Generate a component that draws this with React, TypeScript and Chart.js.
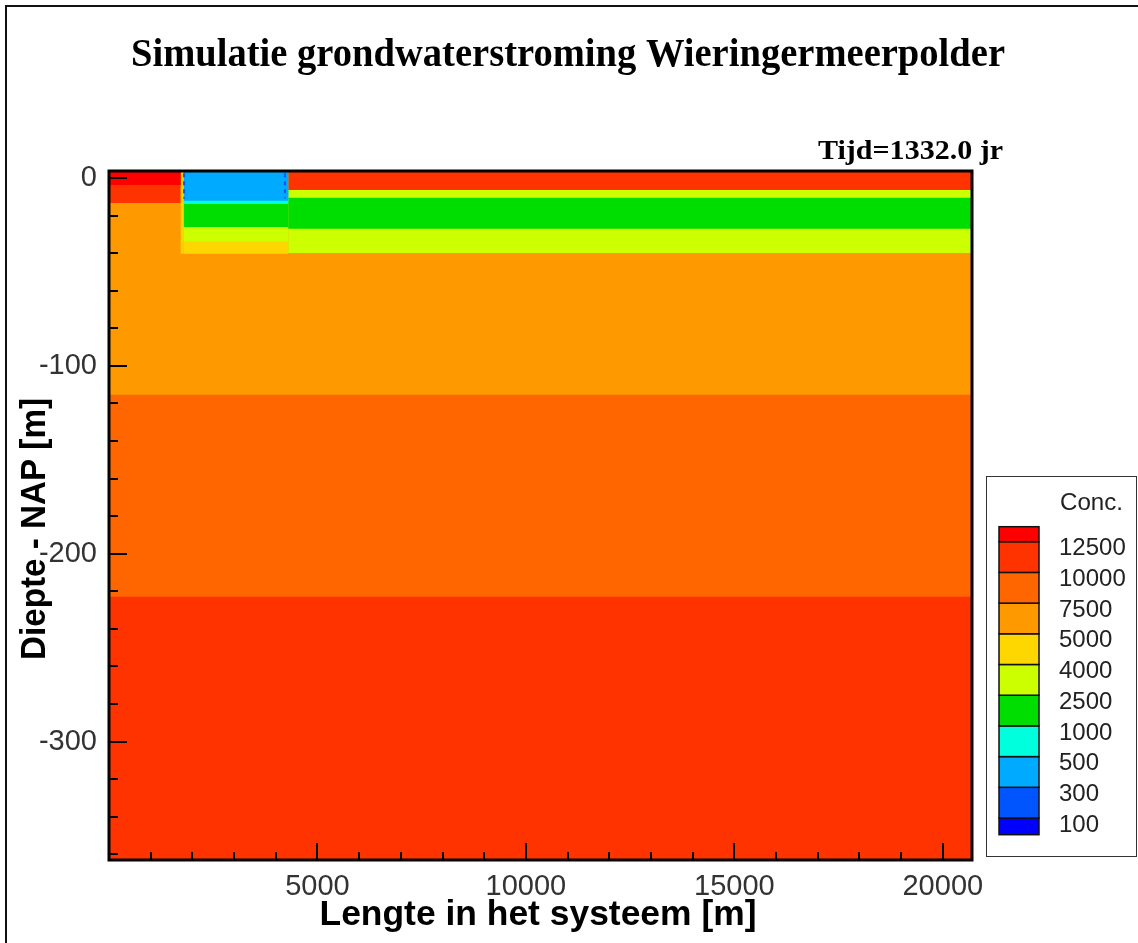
import React, { useEffect, useRef } from 'react';
import { Chart, registerables } from 'chart.js';

Chart.register(...registerables);

// ---- texts ----
const TITLE = 'Simulatie grondwaterstroming Wieringermeerpolder';
const TIME_LABEL = 'Tijd=1332.0 jr';
const X_TITLE = 'Lengte in het systeem [m]';
const Y_TITLE = 'Diepte - NAP [m]';
const LEGEND_TITLE = 'Conc.';

// ---- axes ----
const X_MIN = 0;
const X_MAX = 20700;
const Y_MIN = -363;
const Y_MAX = 3.7;
const X_TICKS = [5000, 10000, 15000, 20000];
const Y_TICKS = [0, -100, -200, -300];
const X_MINOR_STEP = 1000;
const Y_MINOR_STEP = 20;

// ---- concentration classes (legend) ----
const CONC_LEVELS = [100, 300, 500, 1000, 2500, 4000, 5000, 7500, 10000, 12500];
const CONC_COLORS = ['#0000ff', '#0055ff', '#00aaff', '#00ffdd', '#00dd00', '#ccff00', '#ffd700', '#ff9900', '#ff6600', '#ff3300', '#ff0000'];

// ---- full-length layers: bottom depth (m) and concentration, top to bottom ----
const BG_BOTTOM = [-115.4, -222.9, -363];
const BG_CONC = [6000, 8500, 11000];

// ---- columns near the surface (x edges in m; layer bottoms in m; concentrations) ----
const COL_X = [0, 1720, 1790, 4300, 20700];
const COL0_BOTTOMS = [-3.7, -13.3];
const COL0_CONC = [13000, 11000];
const COL1_BOTTOMS = [-40.4];
const COL1_CONC = [4500];
const COL2_BOTTOMS = [-12.2, -13.8, -26.1, -33.8, -40.4];
const COL2_CONC = [400, 700, 1500, 3000, 4500];
const COL3_BOTTOMS = [-6.4, -10.6, -27.1, -39.9];
const COL3_CONC = [11000, 3000, 1500, 3000];

// ---- dashed lines at the edges of the fresh lens ----
const DASH_X = [1800, 4220];
const DASH_Y = [2.5, -11];

function concColor(c: number): string {
  let i = 0;
  while (i < CONC_LEVELS.length && c >= CONC_LEVELS[i]) i++;
  return CONC_COLORS[i];
}

// each layer is filled from the surface down to its bottom; deeper layers are drawn first
function rect(x0: number, x1: number, yTop: number, yBot: number, conc: number, order: number) {
  const col = concColor(conc);
  return {
    type: 'scatter' as const,
    data: [
      { x: x0, y: yTop },
      { x: x1, y: yTop },
      { x: x1, y: yBot },
      { x: x0, y: yBot },
    ],
    showLine: true,
    fill: 'shape',
    backgroundColor: col,
    borderColor: 'rgba(0,0,0,0)',
    borderWidth: 0,
    pointRadius: 0,
    pointHoverRadius: 0,
    order,
  };
}

function buildDatasets() {
  const ds: any[] = [];
  for (let i = 0; i < BG_CONC.length; i++) {
    ds.push(rect(X_MIN, X_MAX, Y_MAX, BG_BOTTOM[i], BG_CONC[i], 100 + i));
  }
  const cols: [number[], number[]][] = [
    [COL0_BOTTOMS, COL0_CONC],
    [COL1_BOTTOMS, COL1_CONC],
    [COL2_BOTTOMS, COL2_CONC],
    [COL3_BOTTOMS, COL3_CONC],
  ];
  cols.forEach(([bottoms, conc], c) => {
    for (let i = 0; i < conc.length; i++) {
      ds.push(rect(COL_X[c], COL_X[c + 1], Y_MAX, bottoms[i], conc[i], 10 + i));
    }
  });
  DASH_X.forEach((x) => {
    ds.push({
      type: 'scatter',
      data: [
        { x, y: DASH_Y[0] },
        { x, y: DASH_Y[1] },
      ],
      showLine: true,
      fill: false,
      borderColor: '#1050ff',
      borderWidth: 2,
      borderDash: [4, 4],
      pointRadius: 0,
      order: 0,
    });
  });
  return ds;
}

function fitText(ctx: CanvasRenderingContext2D, text: string, font: string, x: number, y: number, width: number, align: 'left' | 'center', rotate = 0) {
  ctx.save();
  ctx.font = font;
  const w = ctx.measureText(text).width;
  const sx = width / w;
  ctx.translate(x, y);
  if (rotate) ctx.rotate(rotate);
  ctx.scale(sx, 1);
  ctx.textAlign = align;
  ctx.fillText(text, 0, 0);
  ctx.restore();
}

const decorPlugin = {
  id: 'decor',
  beforeDraw(chart: any) {
    const ctx = chart.ctx as CanvasRenderingContext2D;
    ctx.save();
    ctx.fillStyle = '#ffffff';
    ctx.fillRect(0, 0, chart.width, chart.height);
    ctx.strokeStyle = '#111';
    ctx.lineWidth = 2;
    ctx.beginPath();
    ctx.moveTo(6, chart.height);
    ctx.lineTo(6, 6);
    ctx.lineTo(chart.width, 6);
    ctx.stroke();
    ctx.restore();
  },
  afterDatasetsDraw(chart: any) {
    const ctx = chart.ctx as CanvasRenderingContext2D;
    const { left, right, top, bottom } = chart.chartArea;
    const xs = chart.scales.x;
    const ys = chart.scales.y;
    ctx.save();
    ctx.strokeStyle = '#000';
    ctx.lineWidth = 2;
    ctx.beginPath();
    for (let v = X_MINOR_STEP; v <= X_MAX; v += X_MINOR_STEP) {
      const px = Math.round(xs.getPixelForValue(v));
      const len = X_TICKS.includes(v) ? 17 : 8;
      ctx.moveTo(px, bottom);
      ctx.lineTo(px, bottom - len);
    }
    for (let v = 0; v >= Y_MIN; v -= Y_MINOR_STEP) {
      const py = Math.round(ys.getPixelForValue(v));
      const len = Y_TICKS.includes(v) ? 18 : 9;
      ctx.moveTo(left, py);
      ctx.lineTo(left + len, py);
    }
    ctx.stroke();
    ctx.lineWidth = 3;
    ctx.strokeRect(left, top, right - left, bottom - top);
    ctx.restore();
  },
  afterDraw(chart: any) {
    const ctx = chart.ctx as CanvasRenderingContext2D;
    ctx.save();
    ctx.fillStyle = '#000';
    ctx.textBaseline = 'alphabetic';
    fitText(ctx, TITLE, 'bold 40px "Liberation Serif", "Times New Roman", serif', 568, 66, 874, 'center');
    fitText(ctx, TIME_LABEL, 'bold 28px "Liberation Serif", "Times New Roman", serif', 818, 159, 185, 'left');
    fitText(ctx, X_TITLE, 'bold 35px "Liberation Sans", Arial, sans-serif', 538, 925, 437, 'center');
    fitText(ctx, Y_TITLE, 'bold 35px "Liberation Sans", Arial, sans-serif', 45, 529, 262, 'center', -Math.PI / 2);

    // legend box
    const bx = 986.5, by = 476.5, bw = 150, bh = 380;
    ctx.strokeStyle = '#333';
    ctx.lineWidth = 1;
    ctx.strokeRect(bx, by, bw, bh);
    ctx.fillStyle = '#222';
    ctx.textAlign = 'left';
    ctx.textBaseline = 'middle';
    fitText(ctx, LEGEND_TITLE, '24px "Liberation Sans", Arial, sans-serif', 1060, 503, 63, 'left');

    const barX = 999, barW = 40, step = 30.7;
    const n = CONC_COLORS.length;
    const topY = 541.7;
    for (let i = 0; i < n; i++) {
      const k = n - 1 - i; // from top
      let y0: number, y1: number;
      if (k === 0) { y0 = topY - 15; y1 = topY; }
      else if (k === n - 1) { y0 = topY + (n - 2) * step; y1 = y0 + 16.7; }
      else { y0 = topY + (k - 1) * step; y1 = y0 + step; }
      ctx.fillStyle = CONC_COLORS[i];
      ctx.fillRect(barX, y0, barW, y1 - y0);
      ctx.strokeStyle = '#111';
      ctx.lineWidth = 1.5;
      ctx.strokeRect(barX, y0, barW, y1 - y0);
    }
    ctx.fillStyle = '#222';
    ctx.font = '24px "Liberation Sans", Arial, sans-serif';
    ctx.textBaseline = 'middle';
    for (let j = 0; j < CONC_LEVELS.length; j++) {
      const k = CONC_LEVELS.length - 1 - j; // 12500 at top
      const yb = topY + k * step;
      ctx.fillText(String(CONC_LEVELS[j]), 1059, yb + 7);
    }
    ctx.restore();
  },
};

export default function App() {
  const ref = useRef<HTMLCanvasElement | null>(null);
  useEffect(() => {
    if (!ref.current) return;
    const tickFont = { family: '"Liberation Sans", Arial, sans-serif', size: 29 };
    const chart = new Chart(ref.current, {
      type: 'scatter',
      data: { datasets: buildDatasets() },
      options: {
        responsive: false,
        animation: false,
        events: [],
        layout: { padding: { left: 0, right: 166, top: 171, bottom: 0 } },
        plugins: {
          legend: { display: false },
          title: { display: false },
          tooltip: { enabled: false },
        },
        scales: {
          x: {
            type: 'linear',
            min: X_MIN,
            max: X_MAX,
            afterBuildTicks: (s: any) => { s.ticks = X_TICKS.map((v) => ({ value: v })); },
            afterFit: (s: any) => { s.height = 83; },
            grid: { display: false, drawTicks: false },
            border: { display: false },
            ticks: { font: tickFont, color: '#333', padding: 10, maxRotation: 0, autoSkip: false, callback: (v: any) => String(v) },
          },
          y: {
            type: 'linear',
            min: Y_MIN,
            max: Y_MAX,
            afterBuildTicks: (s: any) => { s.ticks = Y_TICKS.map((v) => ({ value: v })); },
            afterFit: (s: any) => { s.width = 109; },
            grid: { display: false, drawTicks: false },
            border: { display: false },
            ticks: { font: tickFont, color: '#333', padding: 12, autoSkip: false, callback: (v: any) => String(v) },
          },
        },
      } as any,
      plugins: [decorPlugin],
    });
    return () => chart.destroy();
  }, []);
  return (
    <div style={{ position: 'fixed', left: 0, top: 0, width: 1138, height: 943, background: '#fff' }}>
      <canvas ref={ref} width={1138} height={943} />
    </div>
  );
}
